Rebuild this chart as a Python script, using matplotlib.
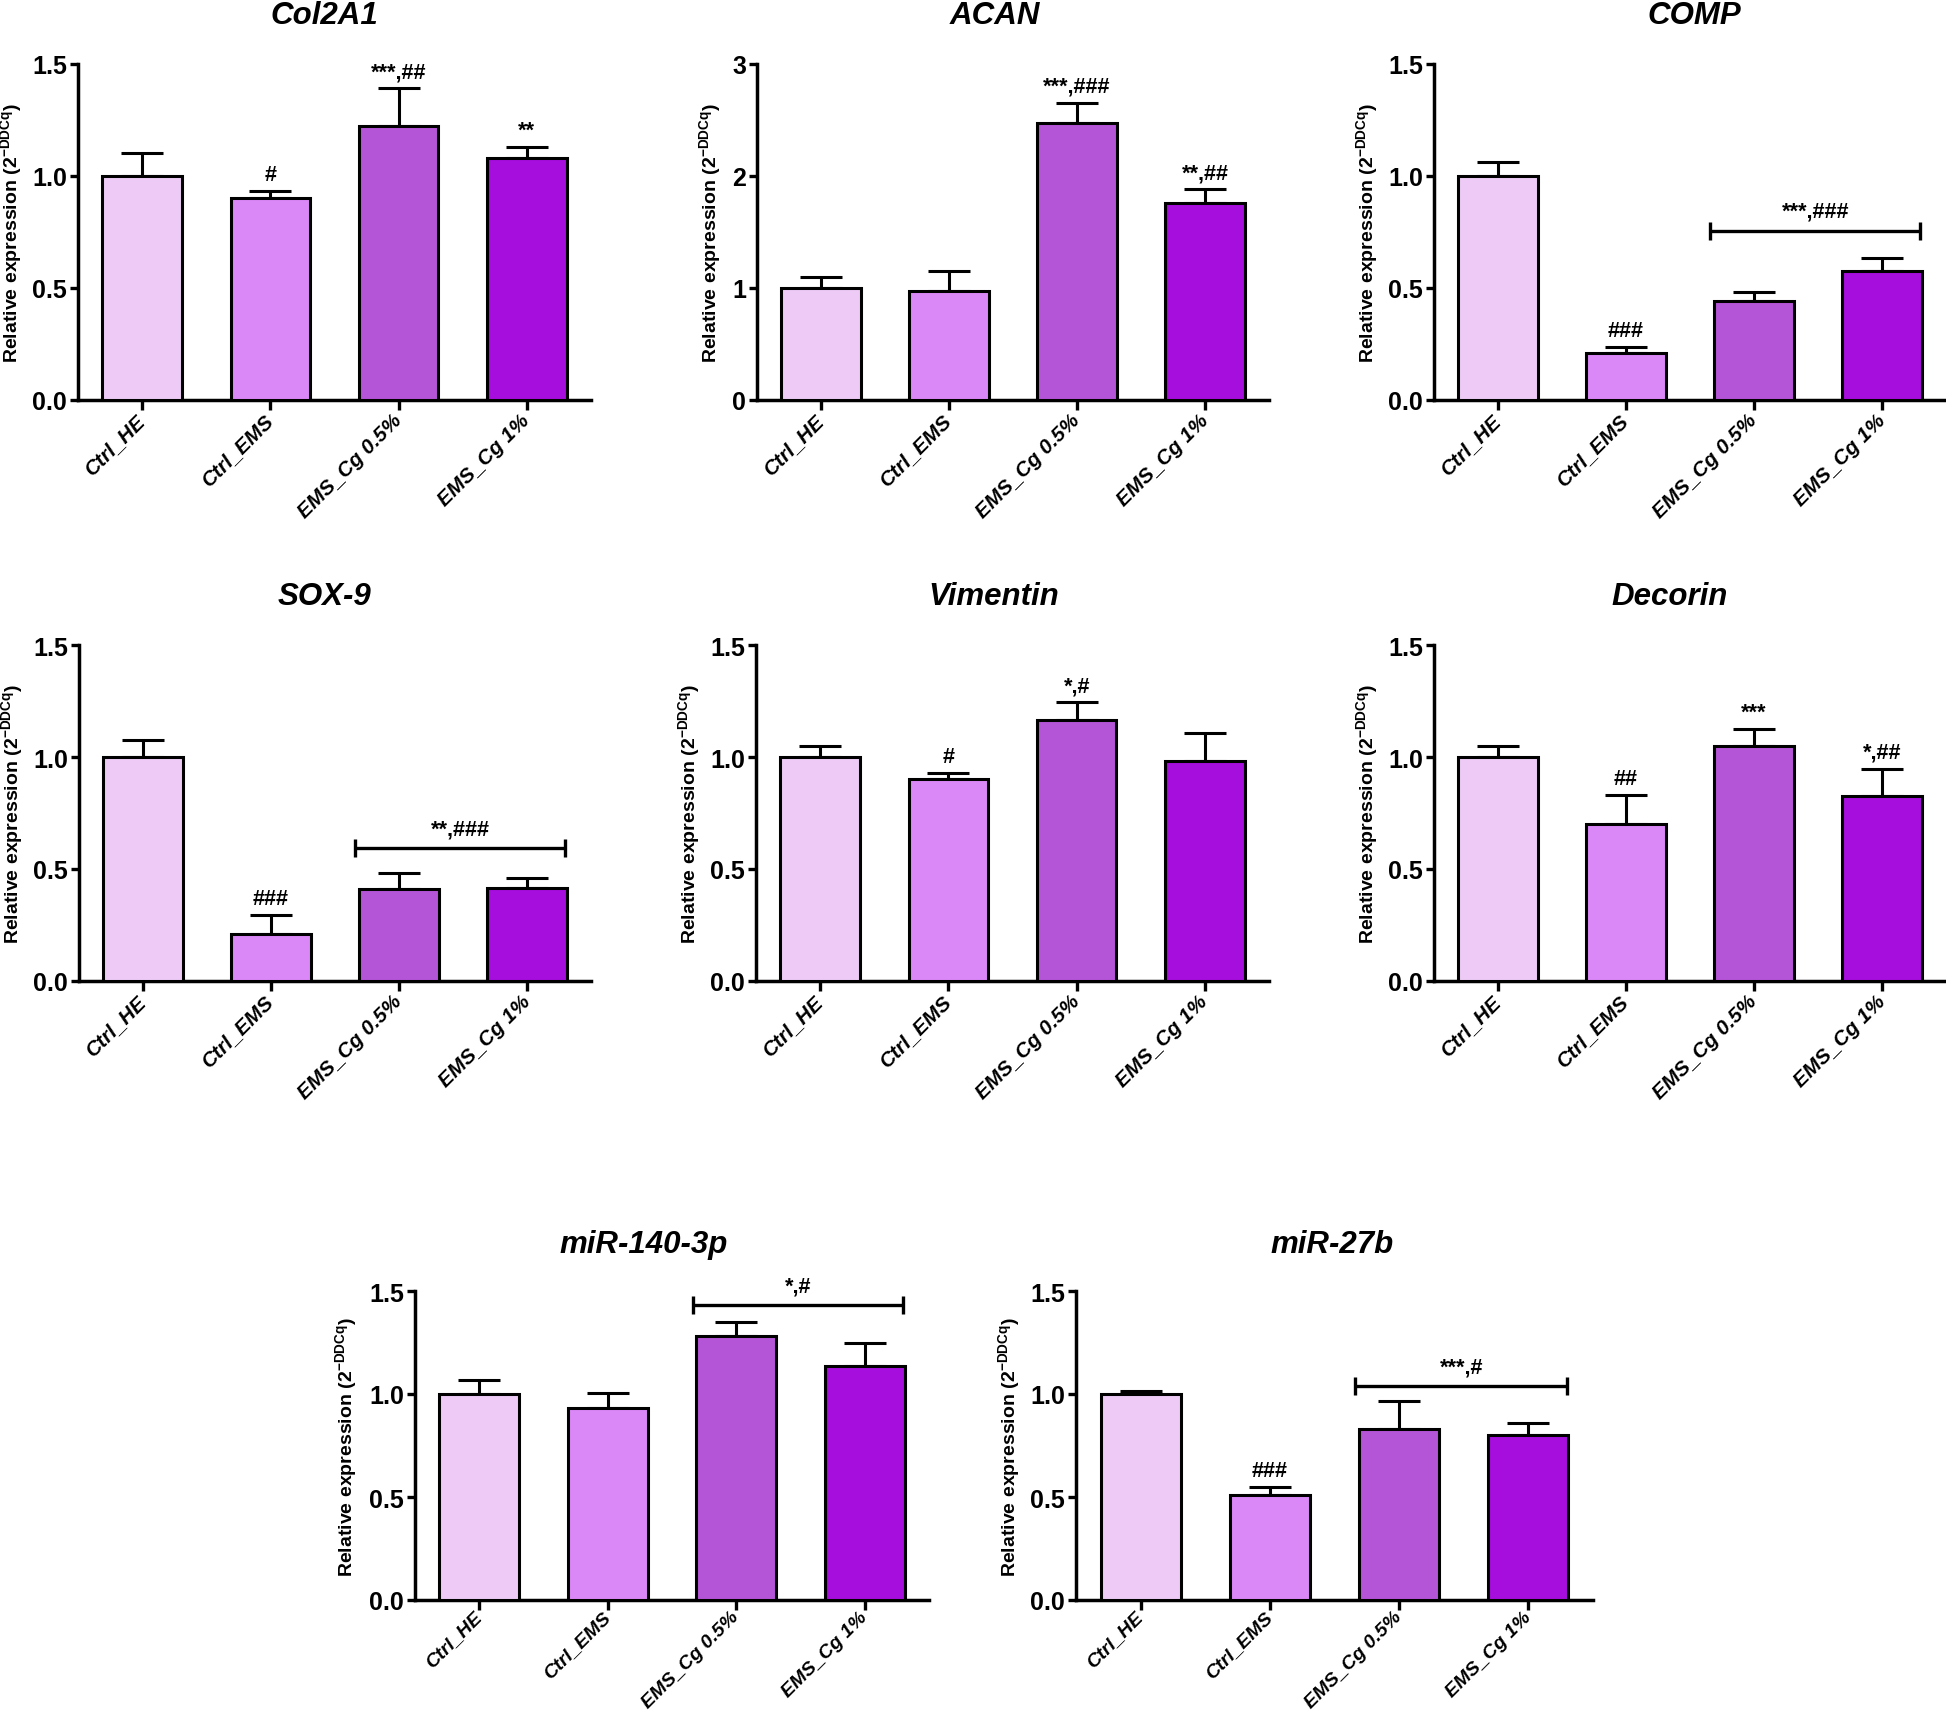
import numpy as np
import matplotlib
matplotlib.use("Agg")
import matplotlib.pyplot as plt
from matplotlib.transforms import ScaledTranslation

plt.rcParams['font.family'] = ['Liberation Sans', 'DejaVu Sans']
plt.rcParams['mathtext.fontset'] = 'custom'
plt.rcParams['mathtext.bf'] = 'Liberation Sans:bold'
plt.rcParams['mathtext.rm'] = 'Liberation Sans'

# ---------------- data ----------------
groups = ["Ctrl_HE", "Ctrl_EMS", "EMS_Cg 0.5%", "EMS_Cg 1%"]

col2a1_mean = [1.00, 0.90, 1.22, 1.08]
col2a1_sem = [0.10, 0.03, 0.17, 0.05]
col2a1_marks = ["", "#", "***,##", "**"]

acan_mean = [1.00, 0.97, 2.47, 1.76]
acan_sem = [0.10, 0.18, 0.18, 0.12]
acan_marks = ["", "", "***,###", "**,##"]

comp_mean = [1.00, 0.21, 0.44, 0.575]
comp_sem = [0.06, 0.027, 0.04, 0.06]
comp_marks = ["", "###", "", ""]

sox9_mean = [1.00, 0.21, 0.41, 0.415]
sox9_sem = [0.077, 0.085, 0.072, 0.043]
sox9_marks = ["", "###", "", ""]

vim_mean = [1.00, 0.90, 1.167, 0.983]
vim_sem = [0.05, 0.028, 0.077, 0.122]
vim_marks = ["", "#", "*,#", ""]

dcn_mean = [1.00, 0.70, 1.048, 0.825]
dcn_sem = [0.05, 0.13, 0.076, 0.122]
dcn_marks = ["", "##", "***", "*,##"]

mir140_mean = [1.00, 0.93, 1.28, 1.134]
mir140_sem = [0.066, 0.076, 0.071, 0.113]
mir140_marks = ["", "", "", ""]

mir27b_mean = [1.00, 0.511, 0.832, 0.803]
mir27b_sem = [0.016, 0.037, 0.133, 0.056]
mir27b_marks = ["", "###", "", ""]

# group brackets: (label, level)
comp_bracket = ("***,###", 0.755)
sox9_bracket = ("**,###", 0.592)
mir140_bracket = ("*,#", 1.43)
mir27b_bracket = ("***,#", 1.038)

colors = ["#EDCBF6", "#DA87F7", "#B454D6", "#A60EDE"]

# ---------------- layout ----------------
W, H = 1946, 1715
fig = plt.figure(figsize=(W / 100, H / 100), dpi=100)

ylab = r'Relative expression (2$^{\mathbf{-DDCq}}$)'

R1 = (64.5, 401.0)
R2 = (646.0, 982.0)
R3 = (1292.0, 1601.0)

panels = [
    # title, mean, sem, marks, bracket, ymax, ticks, (left, top, right, bottom), title(x, baseline), ylabel offset, xlabel (size, pad, shift px)
    ("Col2A1", col2a1_mean, col2a1_sem, col2a1_marks, None, 1.5, [0, 0.5, 1.0, 1.5],
     (78, R1[0], 591, R1[1]), (324, 24.5), 66, (15, 5, 4)),
    ("ACAN", acan_mean, acan_sem, acan_marks, None, 3, [0, 1, 2, 3],
     (757, R1[0], 1269, R1[1]), (995, 24.5), 46, (15, 5, 4)),
    ("COMP", comp_mean, comp_sem, comp_marks, comp_bracket, 1.5, [0, 0.5, 1.0, 1.5],
     (1434, R1[0], 1946, R1[1]), (1694, 24.5), 66, (15, 5, 4)),
    ("SOX-9", sox9_mean, sox9_sem, sox9_marks, sox9_bracket, 1.5, [0, 0.5, 1.0, 1.5],
     (79, R2[0], 591, R2[1]), (324, 605), 66, (15, 5, 4)),
    ("Vimentin", vim_mean, vim_sem, vim_marks, None, 1.5, [0, 0.5, 1.0, 1.5],
     (756, R2[0], 1269, R2[1]), (994, 605), 66, (15, 5, 4)),
    ("Decorin", dcn_mean, dcn_sem, dcn_marks, None, 1.5, [0, 0.5, 1.0, 1.5],
     (1434, R2[0], 1946, R2[1]), (1670, 605), 66, (15, 5, 4)),
    ("miR-140-3p", mir140_mean, mir140_sem, mir140_marks, mir140_bracket, 1.5, [0, 0.5, 1.0, 1.5],
     (415, R3[0], 929, R3[1]), (644, 1253), 68, (14, 3, -4)),
    ("miR-27b", mir27b_mean, mir27b_sem, mir27b_marks, mir27b_bracket, 1.5, [0, 0.5, 1.0, 1.5],
     (1076, R3[0], 1593, R3[1]), (1332, 1253), 66, (14, 3, -4)),
]

for (title, mean, sem, marks, bracket, ymax, ticks, box, tpos, yoff, xlab) in panels:
    l, t, r, b = box
    ax = fig.add_axes([l / W, 1 - b / H, (r - l) / W, (b - t) / H])
    x = np.arange(len(groups))
    ax.bar(x, mean, width=0.62, color=colors, edgecolor='black', linewidth=2.2, zorder=3)
    ax.errorbar(x, mean, yerr=[np.zeros(len(x)), sem], fmt='none', ecolor='black',
                elinewidth=2.2, capsize=15, capthick=2.2, zorder=2)
    ax.set_xlim(-0.5, 3.5)
    ax.set_ylim(0, ymax)
    ax.set_yticks(ticks)
    if ymax == 3:
        ax.set_yticklabels([f"{v:d}" for v in ticks])
    else:
        ax.set_yticklabels([f"{v:.1f}" for v in ticks])
    ax.set_xticks(x)
    ax.set_xticklabels(groups, rotation=45, ha='right', va='center', rotation_mode='anchor',
                       fontsize=xlab[0], fontweight='bold', fontstyle='italic')
    for lab in ax.get_xticklabels():
        lab.set_transform(lab.get_transform() + ScaledTranslation(xlab[2] / 100, 0, fig.dpi_scale_trans))
    for lab in ax.get_yticklabels():
        lab.set_fontweight('bold')
    ax.tick_params(axis='y', labelsize=18, width=2.4, length=6, pad=2, direction='out')
    ax.tick_params(axis='x', width=2.4, length=7, pad=xlab[1], direction='out')
    for s in ['top', 'right']:
        ax.spines[s].set_visible(False)
    for s in ['left', 'bottom']:
        ax.spines[s].set_linewidth(2.5)
    ax.set_facecolor('none')

    ax.set_ylabel(ylab, fontsize=14, fontweight='bold', va='center')
    ax.yaxis.set_label_coords(-yoff / (r - l), 0.5)

    # per-bar significance marks
    for xi, m, s, mk in zip(x, mean, sem, marks):
        if mk:
            ax.annotate(mk, xy=(xi, m + s), xytext=(0, 8), textcoords='offset points',
                        ha='center', va='baseline', fontsize=15.5, fontweight='bold')
    # group bracket
    if bracket is not None:
        lab, lev = bracket
        x0, x1 = 1.66, 3.30
        ax.plot([x0, x1], [lev, lev], color='black', lw=2.4, marker='|', markersize=13,
                mew=2.4, solid_capstyle='butt', clip_on=False, zorder=4)
        ax.annotate(lab, xy=((x0 + x1) / 2, lev), xytext=(0, 10), textcoords='offset points',
                    ha='center', va='baseline', fontsize=15.5, fontweight='bold')

    fig.text(tpos[0] / W, 1 - tpos[1] / H, title, ha='center', va='baseline',
             fontsize=22.5, fontweight='bold', fontstyle='italic')

fig.savefig("out.png", dpi=100, facecolor='white')
